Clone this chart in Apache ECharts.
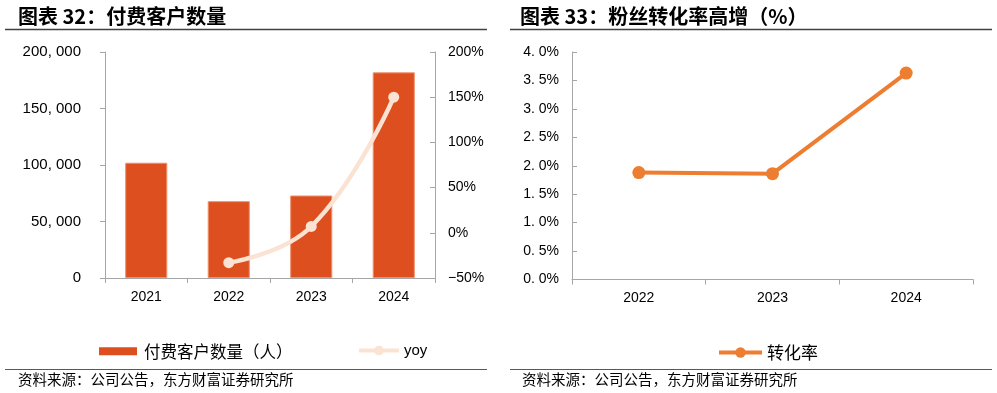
<!DOCTYPE html>
<html><head><meta charset="utf-8">
<script src="https://cdn.jsdelivr.net/npm/echarts@6/dist/echarts.min.js"></script>
<style>html,body{margin:0;padding:0;background:#fff}#c{width:997px;height:393px}</style>
</head><body><div id="c"></div>
<script>
const categories1 = ['2021', '2022', '2023', '2024'];
const customers = [102000, 68000, 73000, 182000];
const yoy = [null, -33, 7, 150];
const categories2 = ['2022', '2023', '2024'];
const conversion = [1.88, 1.86, 3.63];
const title1 = '图表 32：付费客户数量';
const title2 = '图表 33：粉丝转化率高增（%）';
const source = '资料来源：公司公告，东方财富证券研究所';

const LAT = '"Liberation Sans", Arial, sans-serif';
const CJK = '"Noto Sans CJK SC", sans-serif';
const axisLineStyle = { color: '#A6A6A6', width: 1 };
const chart = echarts.init(document.getElementById('c'), null, { renderer: 'canvas' });

function fmtThousands(v) {
  if (v === 0) return '0';
  const s = String(v);
  return s.slice(0, s.length - 3) + ', ' + s.slice(s.length - 3);
}

chart.setOption({
  animation: false,
  backgroundColor: '#fff',
  graphic: [
    { type: 'text', left: 18, top: 6, style: { text: title1, font: 'bold 20px ' + CJK, fill: '#000' } },
    { type: 'text', left: 520, top: 6, style: { text: title2, font: 'bold 20px ' + CJK, fill: '#000' } },
    { type: 'line', shape: { x1: 5, y1: 29.5, x2: 487, y2: 29.5 }, style: { stroke: '#404040', lineWidth: 1.5 } },
    { type: 'line', shape: { x1: 510, y1: 29.5, x2: 992, y2: 29.5 }, style: { stroke: '#404040', lineWidth: 1.5 } },
    { type: 'line', shape: { x1: 5, y1: 369.5, x2: 487, y2: 369.5 }, style: { stroke: '#595959', lineWidth: 1.2 } },
    { type: 'line', shape: { x1: 510, y1: 369.5, x2: 992, y2: 369.5 }, style: { stroke: '#595959', lineWidth: 1.2 } },
    { type: 'text', left: 18, top: 372, style: { text: source, font: '14.5px ' + CJK, fill: '#000' } },
    { type: 'text', left: 522, top: 372, style: { text: source, font: '14.5px ' + CJK, fill: '#000' } }
  ],
  legend: [
    {
      left: 94, top: 338, itemWidth: 38, itemHeight: 8, itemGap: 10,
      data: [{ name: '付费客户数量（人）', icon: 'rect', itemStyle: { borderWidth: 0 } }],
      textStyle: { fontFamily: CJK, fontSize: 16.5, color: '#000', padding: [0, 0, 0, 2] }
    },
    {
      left: 352, top: 338, itemWidth: 40, itemHeight: 12,
      data: ['yoy'],
      lineStyle: { width: 4 },
      textStyle: { fontFamily: LAT, fontSize: 15, color: '#000' }
    },
    {
      left: 712, top: 339, itemWidth: 43, itemHeight: 13,
      data: ['转化率'],
      lineStyle: { width: 4 },
      textStyle: { fontFamily: CJK, fontSize: 17, color: '#000' }
    }
  ],
  grid: [
    { left: 105, right: 562, top: 52, bottom: 115 },
    { left: 572, right: 24, top: 52, bottom: 113.5 }
  ],
  xAxis: [
    {
      type: 'category', gridIndex: 0, data: categories1,
      axisLine: { lineStyle: axisLineStyle },
      axisTick: { show: true, inside: false, length: 5, lineStyle: axisLineStyle },
      axisLabel: { color: '#000', fontFamily: LAT, fontSize: 14, margin: 12 }
    },
    {
      type: 'category', gridIndex: 1, data: categories2,
      axisLine: { lineStyle: axisLineStyle },
      axisTick: { show: true, inside: false, length: 5, lineStyle: axisLineStyle },
      axisLabel: { color: '#000', fontFamily: LAT, fontSize: 14, margin: 12 }
    }
  ],
  yAxis: [
    {
      type: 'value', gridIndex: 0, min: 0, max: 200000, interval: 50000,
      axisLine: { show: true, lineStyle: axisLineStyle },
      axisTick: { show: true, inside: false, length: 5, lineStyle: axisLineStyle },
      splitLine: { show: false },
      axisLabel: { color: '#000', fontFamily: LAT, fontSize: 15, margin: 24, formatter: fmtThousands }
    },
    {
      type: 'value', gridIndex: 0, position: 'right', min: -50, max: 200, interval: 50,
      axisLine: { show: true, lineStyle: axisLineStyle },
      axisTick: { show: true, inside: true, length: 5, lineStyle: axisLineStyle },
      splitLine: { show: false },
      axisLabel: { color: '#000', fontFamily: LAT, fontSize: 14, margin: 13, formatter: v => (v < 0 ? '\u2212' + Math.abs(v) : v) + '%' }
    },
    {
      type: 'value', gridIndex: 1, min: 0, max: 4, interval: 0.5,
      axisLine: { show: true, lineStyle: axisLineStyle },
      axisTick: { show: true, inside: true, length: 5, lineStyle: axisLineStyle },
      splitLine: { show: false },
      axisLabel: { color: '#000', fontFamily: LAT, fontSize: 14, margin: 13, formatter: v => v.toFixed(1).replace('.', '. ') + '%' }
    }
  ],
  series: [
    {
      name: '付费客户数量（人）', type: 'bar', xAxisIndex: 0, yAxisIndex: 0,
      data: customers, barWidth: '51%',
      itemStyle: { color: '#DD4F1F', borderColor: '#EE8F6A', borderWidth: 1 }
    },
    {
      name: 'yoy', type: 'line', xAxisIndex: 0, yAxisIndex: 1,
      data: yoy, smooth: 0.45, symbol: 'circle', symbolSize: 11,
      lineStyle: { color: '#FBE3D4', width: 4.5 },
      itemStyle: { color: '#FBE3D4' }
    },
    {
      name: '转化率', type: 'line', xAxisIndex: 1, yAxisIndex: 2,
      data: conversion, symbol: 'circle', symbolSize: 13,
      lineStyle: { color: '#ED7D31', width: 4 },
      itemStyle: { color: '#ED7D31' }
    }
  ]
});
</script>
</body></html>
